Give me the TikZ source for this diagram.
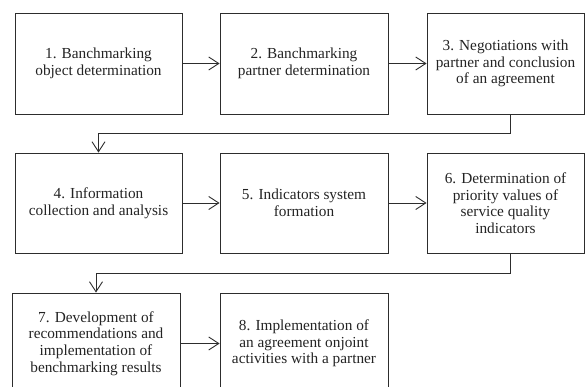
\documentclass[tikz,border=0pt]{standalone}
\usepackage{fontspec}
\setmainfont{Liberation Serif}
\usetikzlibrary{arrows.meta,positioning,calc}
\definecolor{colTrait}{RGB}{45,45,45}
\definecolor{colTexte}{RGB}{35,35,35}

\begin{document}
\begin{tikzpicture}[x=1pt, y=1pt, font=\fontsize{15.3}{16.6}\selectfont,
    etape/.style={rectangle, draw=colTrait, line width=0.9pt, align=center,
      text=colTexte, minimum height=101pt, inner sep=2pt},
    fl/.style={-{Straight Barb[length=10pt, width=13pt]}, line width=0.9pt, colTrait}]
    \clip (0,0) rectangle (585,387);
    \useasboundingbox (0,0) rectangle (585,387);
    % ligne 1
    \node[etape, minimum width=167pt] (e1) at (98.5,323.5)
      {1. Banchmarking\\ object determination};
    \node[etape, minimum width=168pt] (e2) at (304,323.5)
      {2. Banchmarking\\ partner determination};
    \node[etape, minimum width=157pt] (e3) at (505.5,323.5)
      {3. Negotiations with\\ partner and conclusion\\ of an agreement};
    % ligne 2
    \node[etape, minimum width=167pt, minimum height=100pt] (e4) at (98.5,184)
      {4. Information\\ collection and analysis};
    \node[etape, minimum width=168pt, minimum height=100pt] (e5) at (304,184)
      {5. Indicators system\\ formation};
    \node[etape, minimum width=157pt, minimum height=100pt] (e6) at (505.5,184)
      {6. Determination of\\ priority values of\\ service quality\\ indicators};
    % ligne 3
    \node[etape, minimum width=168pt] (e7) at (96,43.5)
      {7. Development of\\ recommendations and\\ implementation of\\ benchmarking results};
    \node[etape, minimum width=168pt] (e8) at (304,43.5)
      {8. Implementation of\\ an agreement onjoint\\ activities with a partner};
    % liaisons
    \draw[fl] (e1) -- (e2);
    \draw[fl] (e2) -- (e3);
    \draw[fl] (e4) -- (e5);
    \draw[fl] (e5) -- (e6);
    \draw[fl] (e7) -- (e8);
    \draw[fl] ([xshift=4.5pt]e3.south) -- ++(0,-19) -| (e4.north);
    \draw[fl] ([xshift=4.5pt]e6.south) -- ++(0,-20) -| (e7.north);
  \end{tikzpicture}
\end{document}
